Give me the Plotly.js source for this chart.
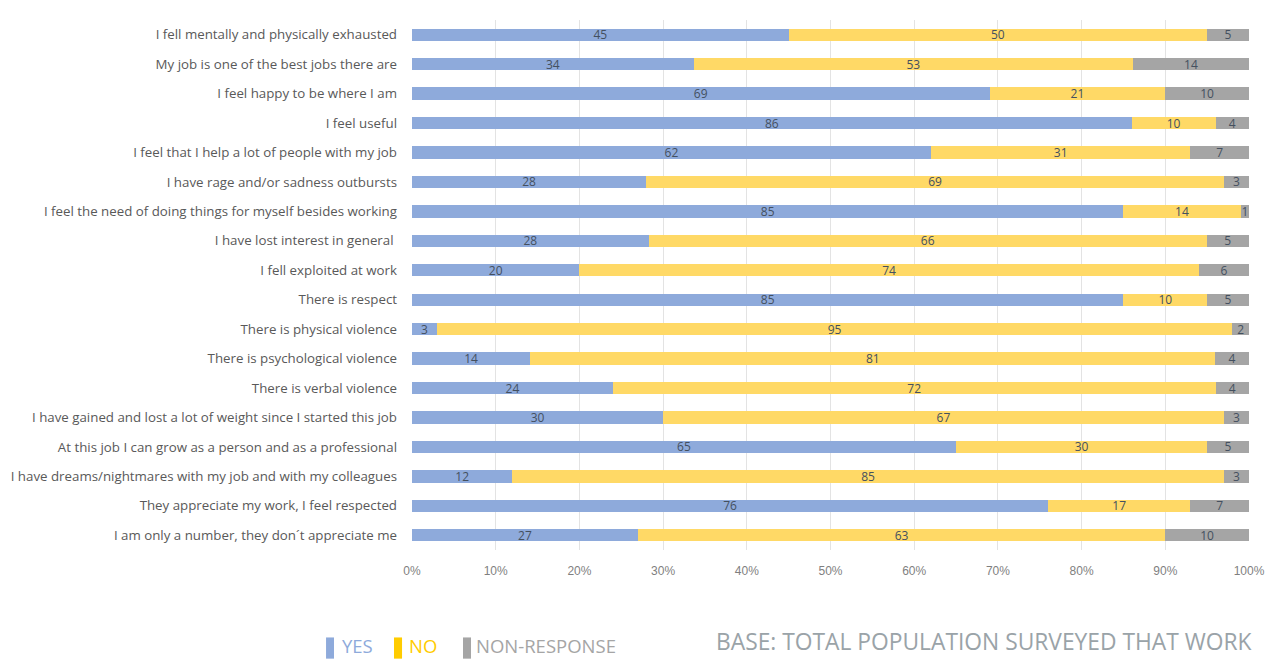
<!DOCTYPE html>
<html>
<head>
<meta charset="utf-8">
<script src="https://cdn.plot.ly/plotly-3.0.1.min.js"></script>
<style>
html,body{margin:0;padding:0;background:#fff;}
#chart{width:1279px;height:659px;}
</style>
</head>
<body>
<div id="chart"></div>
<script>
const categories = [
  "I fell mentally and physically exhausted",
  "My job is one of the best jobs there are",
  "I feel happy to be where I am",
  "I feel useful",
  "I feel that I help a lot of people with my job",
  "I have rage and/or sadness outbursts",
  "I feel the need of doing things for myself besides working",
  "I have lost interest in general ",
  "I fell exploited at work",
  "There is respect",
  "There is physical violence",
  "There is psychological violence",
  "There is verbal violence",
  "I have gained and lost a lot of weight since I started this job",
  "At this job I can grow as a person and as a professional",
  "I have dreams/nightmares with my job and with my colleagues",
  "They appreciate my work, I feel respected",
  "I am only a number, they don´t appreciate me"
];
const yesValues = [45,34,69,86,62,28,85,28,20,85,3,14,24,30,65,12,76,27];
const noValues  = [50,53,21,10,31,69,14,66,74,10,95,81,72,67,30,85,17,63];
const nrValues  = [5,14,10,4,7,3,1,5,6,5,2,4,4,3,5,3,7,10];
const tickVals = [0,10,20,30,40,50,60,70,80,90,100];
const tickLabels = ["0%","10%","20%","30%","40%","50%","60%","70%","80%","90%","100%"];

const colors = {yes:"#8eaadb", no:"#ffd966", nr:"#a5a5a5"};
const labelFont = {family:"Open Sans, sans-serif", size:12, color:"#44505f"};

function mk(vals, color, name){
  return {
    type:"bar", orientation:"h", name:name,
    y:categories, x:vals, text:vals.map(String),
    textposition:"inside", insidetextanchor:"middle", constraintext:"none", textangle:0,
    textfont:labelFont, insidetextfont:labelFont,
    marker:{color:color, line:{width:0}},
    hoverinfo:"x+y", showlegend:false
  };
}
const data = [mk(yesValues,colors.yes,"YES"), mk(noValues,colors.no,"NO"), mk(nrValues,colors.nr,"NON-RESPONSE")];

const legendY = -0.181;
const layout = {
  width:1279, height:659,
  margin:{l:412, r:30, t:20, b:109},
  barmode:"stack", barnorm:"percent", bargap:0.58,
  paper_bgcolor:"#ffffff", plot_bgcolor:"#ffffff",
  showlegend:false,
  xaxis:{range:[0,100], tickvals:tickVals, ticktext:tickLabels,
    showgrid:true, gridcolor:"#e3e3e3", gridwidth:1, zeroline:false,
    showline:false, ticks:"", ticklabelstandoff:12,
    tickfont:{family:"Liberation Sans Narrow, Arial Narrow, sans-serif", size:12, color:"#7f7f7f"}, fixedrange:true},
  yaxis:{autorange:"reversed", showgrid:false, zeroline:false, showline:false, ticks:"",
    ticklabelstandoff:14,
    tickfont:{family:"Open Sans, sans-serif", size:13.3, color:"#595959"}, fixedrange:true},
  shapes:[
    {type:"rect", xref:"paper", yref:"paper", x0:-0.1027, x1:-0.0932, y0:-0.205, y1:-0.165, fillcolor:colors.yes, line:{width:0}},
    {type:"rect", xref:"paper", yref:"paper", x0:-0.0215, x1:-0.0119, y0:-0.205, y1:-0.165, fillcolor:"#ffcc00", line:{width:0}},
    {type:"rect", xref:"paper", yref:"paper", x0:0.0609, x1:0.0705, y0:-0.205, y1:-0.165, fillcolor:colors.nr, line:{width:0}}
  ],
  annotations:[
    {xref:"paper", yref:"paper", x:-0.0855, y:legendY, xanchor:"left", yanchor:"middle", showarrow:false,
     text:"YES", font:{family:"Open Sans, sans-serif", size:18.5, color:"#8eaadb"}},
    {xref:"paper", yref:"paper", x:-0.0065, y:legendY, xanchor:"left", yanchor:"middle", showarrow:false,
     text:"NO", font:{family:"Open Sans, sans-serif", size:18.5, color:"#ffcc00"}},
    {xref:"paper", yref:"paper", x:0.0745, y:legendY, xanchor:"left", yanchor:"middle", showarrow:false,
     text:"NON-RESPONSE", font:{family:"Open Sans, sans-serif", size:18.5, color:"#a5a5a5"}},
    {xref:"paper", yref:"paper", x:1.006, y:-0.173, xanchor:"right", yanchor:"middle", showarrow:false,
     text:"BASE: TOTAL POPULATION SURVEYED THAT WORK", font:{family:"Open Sans, sans-serif", size:22.8, color:"#9aa3a8"}}
  ]
};

Plotly.newPlot("chart", data, layout, {displayModeBar:false, staticPlot:true});
</script>
</body>
</html>
